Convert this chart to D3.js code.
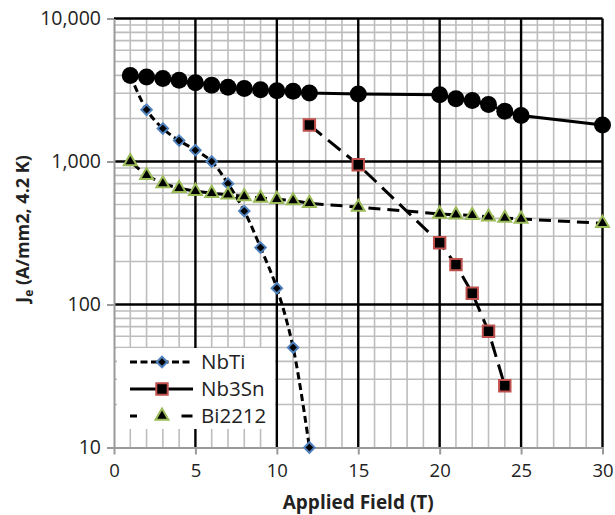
<!DOCTYPE html>
<html>
<head>
<meta charset="utf-8">
<script src="https://cdn.jsdelivr.net/npm/d3@7"></script>
<style>
  html, body { margin: 0; padding: 0; background: #fff; }
  svg { display: block; font-family: "Open Sans", "Liberation Sans", sans-serif; }
</style>
</head>
<body>
<svg id="chart" width="615" height="515"></svg>
<script>
// Applied field (T) for each series
const fieldNbTi   = [1, 2, 3, 4, 5, 6, 7, 8, 9, 10, 11, 12];
const fieldNb3Sn  = [12, 15, 20, 21, 22, 23, 24];
const fieldBi2212 = [1, 2, 3, 4, 5, 6, 7, 8, 9, 10, 11, 12, 15, 20, 21, 22, 23, 24, 25, 30];
const fieldUpper  = [1, 2, 3, 4, 5, 6, 7, 8, 9, 10, 11, 12, 15, 20, 21, 22, 23, 24, 25, 30];

// Engineering current density Je (A/mm2, 4.2 K)
const jeNbTi   = [4000, 2300, 1700, 1400, 1200, 1000, 700, 450, 250, 130, 50, 10];
const jeNb3Sn  = [1800, 950, 270, 190, 120, 65, 27];
const jeBi2212 = [1000, 800, 700, 650, 620, 600, 585, 570, 555, 545, 533, 510, 480, 430, 424, 420, 410, 402, 396, 370];
const jeUpper  = [4000, 3900, 3800, 3700, 3550, 3420, 3310, 3240, 3170, 3130, 3100, 3010, 2960, 2930, 2750, 2670, 2500, 2250, 2100, 1800];

// Axis ticks and labels
const xTicks = [0, 5, 10, 15, 20, 25, 30];
const yTicks = [10, 100, 1000, 10000];
const legendNames = ["NbTi", "Nb3Sn", "Bi2212"];
const xTitle = "Applied Field (T)";

const svg = d3.select("#chart");
const plotLeft = 114, plotRight = 602.5, plotTop = 18.5, plotBottom = 447.5;

const x = d3.scaleLinear().domain([0, 30]).range([plotLeft, plotRight]);
const y = d3.scaleLog().domain([10, 10000]).range([plotBottom, plotTop]);

// minor gridlines
const minorX = d3.range(0, 31).filter(v => v % 5 !== 0);
const minorY = [];
[10, 100, 1000].forEach(d => { for (let k = 2; k <= 9; k++) minorY.push(d * k); });

const grid = svg.append("g");
grid.append("g").selectAll("line").data(minorX).join("line")
  .attr("x1", d => x(d)).attr("x2", d => x(d))
  .attr("y1", plotTop).attr("y2", plotBottom)
  .attr("stroke", "#bdbdbd").attr("stroke-width", 1.6);
grid.append("g").selectAll("line").data(minorY).join("line")
  .attr("x1", plotLeft).attr("x2", plotRight)
  .attr("y1", d => y(d)).attr("y2", d => y(d))
  .attr("stroke", "#bdbdbd").attr("stroke-width", 1.6);

// major gridlines
grid.append("g").selectAll("line").data(xTicks.filter(d => d > 0)).join("line")
  .attr("x1", d => x(d)).attr("x2", d => x(d))
  .attr("y1", plotTop).attr("y2", plotBottom)
  .attr("stroke", "#000").attr("stroke-width", 2.4);
grid.append("g").selectAll("line").data(yTicks.filter(d => d > 10)).join("line")
  .attr("x1", plotLeft).attr("x2", plotRight)
  .attr("y1", d => y(d)).attr("y2", d => y(d))
  .attr("stroke", "#000").attr("stroke-width", 2.4);

// axes
const xAxis = svg.append("g").attr("transform", `translate(0,${plotBottom})`)
  .call(d3.axisBottom(x).tickValues(xTicks).tickSize(7).tickSizeOuter(0).tickFormat(d3.format("d")));
const yAxis = svg.append("g").attr("transform", `translate(${plotLeft},0)`)
  .call(d3.axisLeft(y).tickValues(yTicks).tickSize(7).tickSizeOuter(0).tickFormat(d3.format(",")));
[xAxis, yAxis].forEach(a => {
  a.select(".domain").attr("stroke", "#9a9a9a").attr("stroke-width", 2);
  a.selectAll(".tick line").attr("stroke", "#9a9a9a").attr("stroke-width", 2);
  a.selectAll(".tick text").attr("fill", "#222")
    .attr("font-family", "'Open Sans', sans-serif");
});
xAxis.selectAll(".tick text").attr("font-size", 18.5).attr("dy", "1.05em");
yAxis.selectAll(".tick text").attr("font-size", 19.5).attr("x", -13);

// series
const zip = (xs, ys) => xs.map((v, i) => ({ x: v, y: ys[i] }));
const nbti = zip(fieldNbTi, jeNbTi);
const nb3sn = zip(fieldNb3Sn, jeNb3Sn);
const bi2212 = zip(fieldBi2212, jeBi2212);
const upper = zip(fieldUpper, jeUpper);

const lineStraight = d3.line().x(d => x(d.x)).y(d => y(d.y));
const lineSmooth = d3.line().x(d => x(d.x)).y(d => y(d.y)).curve(d3.curveCatmullRom.alpha(0.5));

const plot = svg.append("g");

const diamond = d3.symbol().type(d3.symbolDiamond2).size(70);
const square = d3.symbol().type(d3.symbolSquare).size(130);
const triangle = d3.symbol().type(d3.symbolTriangle).size(72);

function drawMarkers(data, sym, fill, stroke, sw) {
  plot.append("g").selectAll("path").data(data).join("path")
    .attr("d", sym)
    .attr("transform", d => `translate(${x(d.x)},${y(d.y)})`)
    .attr("fill", fill).attr("stroke", stroke).attr("stroke-width", sw);
}

// NbTi
plot.append("path").datum(nbti).attr("d", lineSmooth)
  .attr("fill", "none").attr("stroke", "#000").attr("stroke-width", 3)
  .attr("stroke-dasharray", "7,4");
drawMarkers(nbti, diamond, "#000", "#4f81bd", 2);

// Nb3Sn
plot.append("path").datum(nb3sn).attr("d", lineStraight)
  .attr("fill", "none").attr("stroke", "#000").attr("stroke-width", 3)
  .attr("stroke-dasharray", "16,8");
drawMarkers(nb3sn, square, "#000", "#c0504d", 2);

// Bi2212
plot.append("path").datum(bi2212).attr("d", lineStraight)
  .attr("fill", "none").attr("stroke", "#000").attr("stroke-width", 3)
  .attr("stroke-dasharray", "12,7");
drawMarkers(bi2212, triangle, "#000", "#9bbb59", 2);

// upper envelope, solid with round markers
plot.append("path").datum(upper).attr("d", lineStraight)
  .attr("fill", "none").attr("stroke", "#000").attr("stroke-width", 3);
plot.append("g").selectAll("circle").data(upper).join("circle")
  .attr("cx", d => x(d.x)).attr("cy", d => y(d.y)).attr("r", 8.5)
  .attr("fill", "#000");

// legend
const lg = svg.append("g");
lg.append("rect").attr("x", 117).attr("y", 348).attr("width", 158).attr("height", 81).attr("fill", "#fff");
const rows = [
  { name: legendNames[0], y: 362, dash: "7,3.5", sym: diamond, stroke: "#4f81bd" },
  { name: legendNames[1], y: 389, dash: null, sym: square, stroke: "#c0504d" },
  { name: legendNames[2], y: 416, dash: "7,44.5,11", sym: triangle, stroke: "#9bbb59" }
];
rows.forEach(r => {
  const l = lg.append("line").attr("x1", 130).attr("x2", 193).attr("y1", r.y).attr("y2", r.y)
    .attr("stroke", "#000").attr("stroke-width", 3);
  if (r.dash) l.attr("stroke-dasharray", r.dash);
  lg.append("path").attr("d", r.sym).attr("transform", `translate(162,${r.y})`)
    .attr("fill", "#000").attr("stroke", r.stroke).attr("stroke-width", 2);
  lg.append("text").attr("x", 201).attr("y", r.y).attr("dy", "0.35em")
    .attr("font-size", 20.5).attr("fill", "#222").text(r.name);
});

// axis titles
svg.append("text").attr("x", (plotLeft + plotRight) / 2).attr("y", 509)
  .attr("text-anchor", "middle").attr("font-size", 19).attr("font-weight", "bold")
  .attr("fill", "#222").text(xTitle);

const yt = svg.append("text")
  .attr("transform", `translate(29,229) rotate(-90)`)
  .attr("text-anchor", "middle").attr("font-size", 18).attr("font-weight", "bold").attr("fill", "#222");
yt.append("tspan").text("J");
yt.append("tspan").attr("font-size", 12).attr("dy", 4).text("e");
yt.append("tspan").attr("dy", -4).text(" (A/mm2, 4.2 K)");
</script>
</body>
</html>
